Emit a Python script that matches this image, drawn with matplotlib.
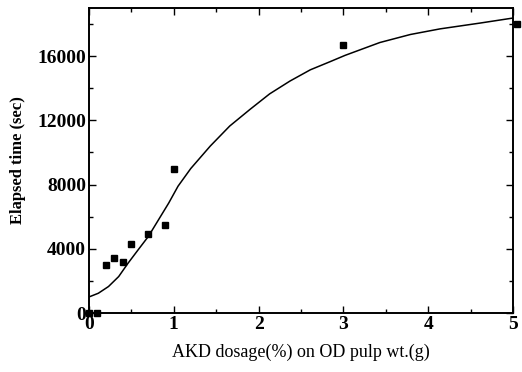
import numpy as np
import matplotlib
matplotlib.use("Agg")
import matplotlib.pyplot as plt
from matplotlib.ticker import MultipleLocator

plt.rcParams["font.family"] = ["Liberation Serif", "DejaVu Serif"]

# measured points
dosage = [0.0, 0.1, 0.2, 0.3, 0.4, 0.5, 0.7, 0.9, 1.0, 3.0, 5.05]
elapsed = [0, 0, 3000, 3400, 3200, 4300, 4900, 5500, 9000, 16700, 18000]

# fitted curve
fit_x = [0.0, 0.11, 0.23, 0.35, 0.46, 0.58, 0.70, 0.82, 0.94, 1.05, 1.20,
         1.43, 1.66, 1.90, 2.13, 2.37, 2.61, 2.84, 3.02, 3.43, 3.79, 4.14,
         4.61, 5.0]
fit_y = [1000, 1230, 1650, 2270, 3100, 3940, 4770, 5810, 6850, 7900, 9000,
         10400, 11650, 12690, 13650, 14450, 15150, 15650, 16050, 16850,
         17350, 17700, 18060, 18375]

fig = plt.figure(figsize=(5.22, 3.72), dpi=100)
ax = fig.add_axes([0.1705, 0.1586, 0.8123, 0.8199])

ax.plot(fit_x, fit_y, color="black", lw=1.1)
ax.plot(dosage, elapsed, "s", color="black", ms=4.5, clip_on=False, zorder=5)

ax.set_xlim(0, 5)
ax.set_ylim(0, 19000)
ax.xaxis.set_major_locator(MultipleLocator(1))
ax.xaxis.set_minor_locator(MultipleLocator(0.5))
ax.yaxis.set_major_locator(MultipleLocator(4000))
ax.yaxis.set_minor_locator(MultipleLocator(2000))
ax.tick_params(which="both", direction="in", top=True, right=True)
ax.tick_params(which="major", length=5, width=1, labelsize=14, pad=2)
ax.tick_params(which="minor", length=3, width=1)
for lab in ax.get_xticklabels() + ax.get_yticklabels():
    lab.set_fontweight("bold")
for s in ax.spines.values():
    s.set_linewidth(1.4)

ax.set_xlabel("AKD dosage(%) on OD pulp wt.(g)", fontsize=13, labelpad=8)
ax.set_ylabel("Elapsed time (sec)", fontsize=12, fontweight="bold", labelpad=8)

fig.savefig("out.png", dpi=100)
